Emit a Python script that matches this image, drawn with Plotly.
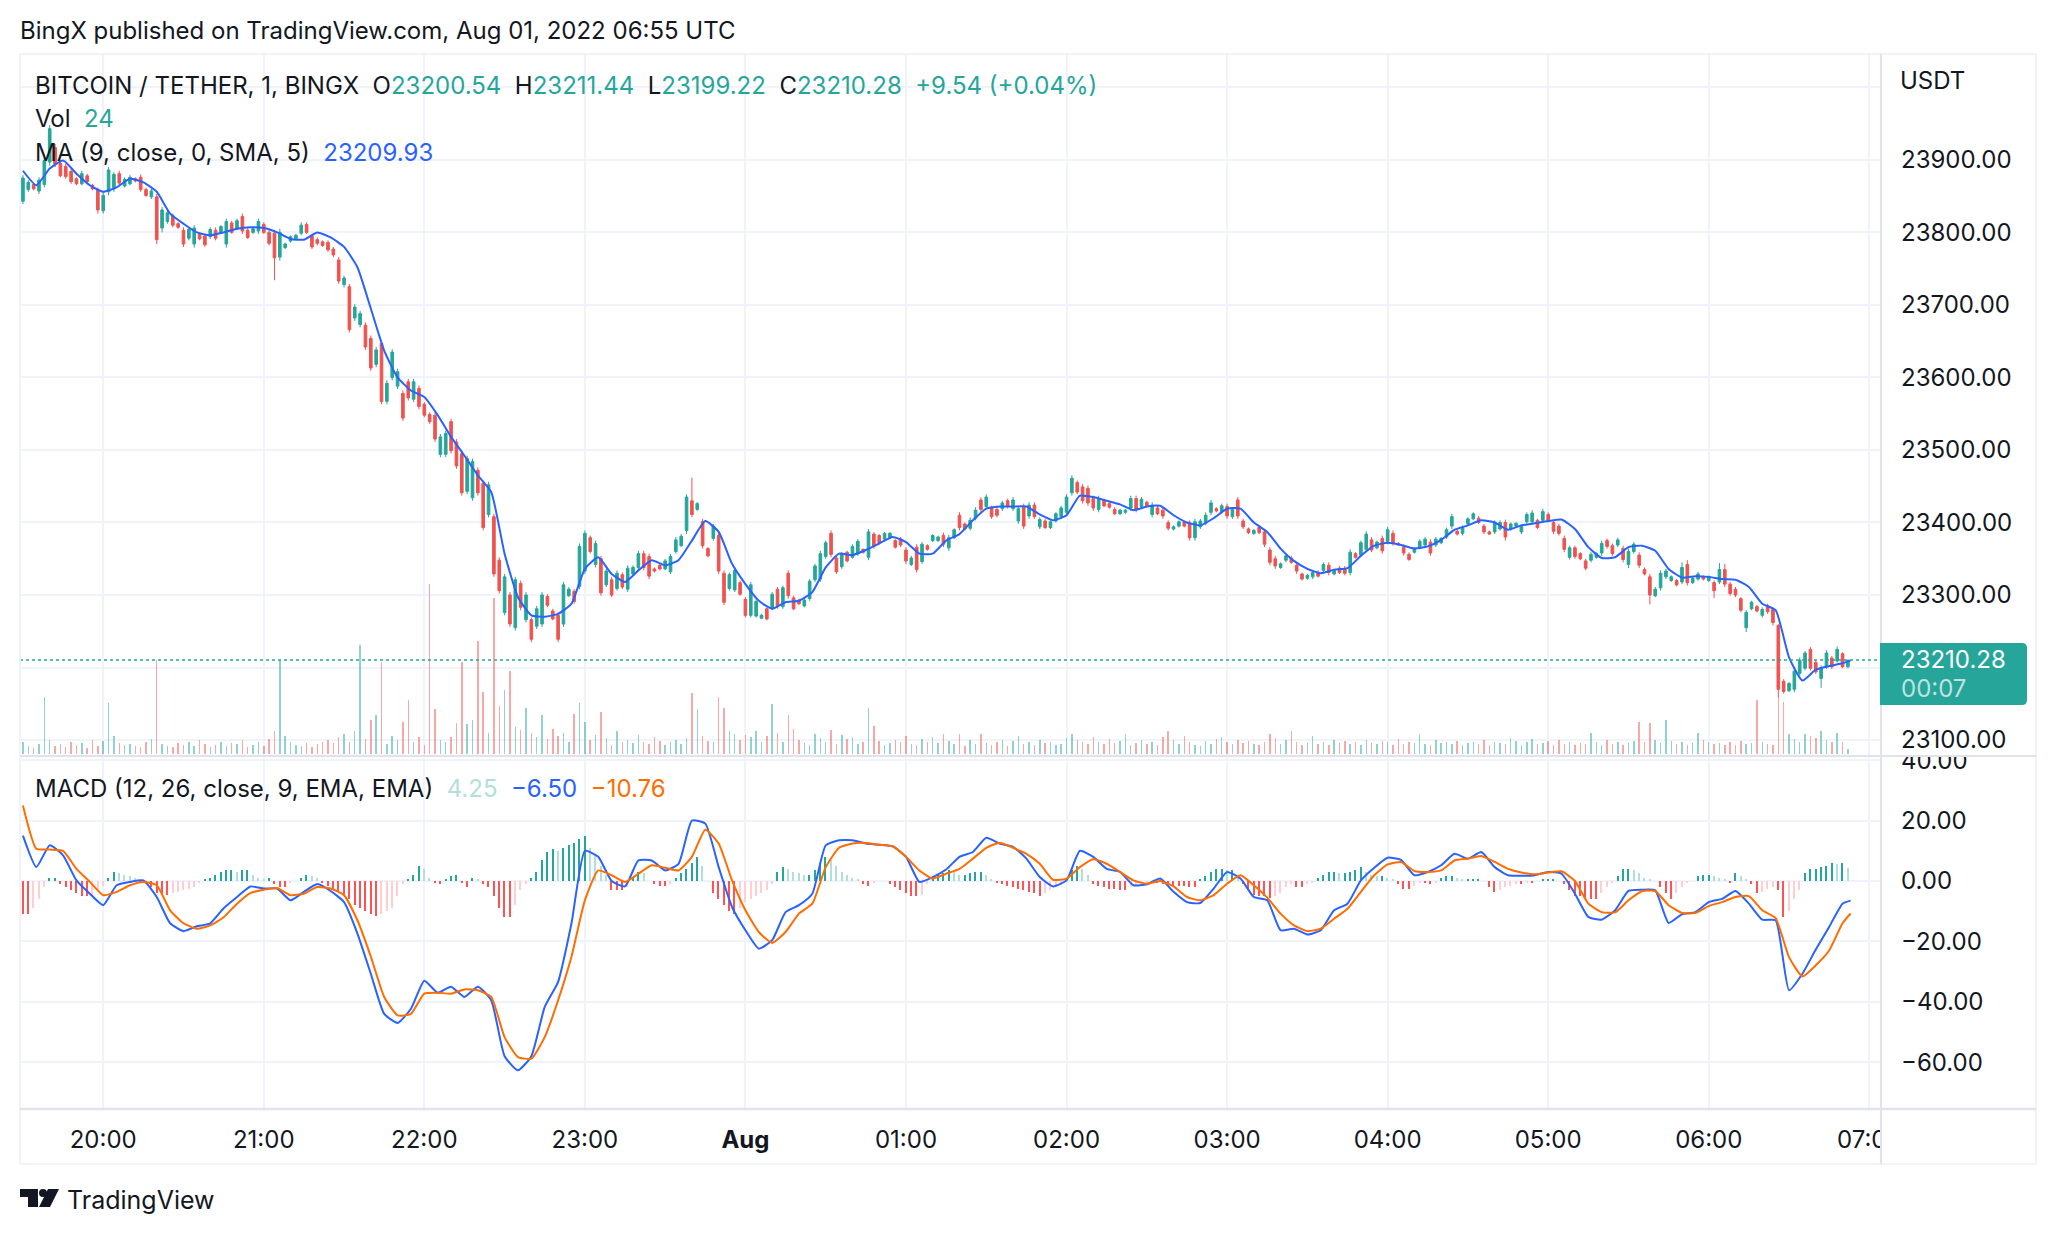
import plotly.graph_objects as go

W, H = 2056, 1234
BASE = 23000
UP, DOWN = "#26a69a", "#ef5350"
INK = "#131722"
GRID = "#f0f3fa"
EDGE = "#e0e3eb"
FONT = "Inter"

# 2-minute bars, as price minus 23000, starting 19:30
highs = [879,872,869,876,904,948,922,899,895,888,876,885,881,867,862,855,890,883,885,876,879,876,880,862,860,853,835,830,826,814,807,807,810,800,798,807,807,810,819,816,819,826,807,807,819,814,803,803,805,786,796,798,814,814,798,793,789,789,780,766,740,729,701,692,676,658,642,651,596,639,612,582,598,598,589,566,552,
552,522,527,543,515,499,492,488,476,458,456,412,352,329,304,325,320,304,269,285,304,301,281,276,318,311,308,371,389,382,375,354,336,325,334,331,341,341,361,361,357,338,343,350,357,380,384,439,462,428,405,366,398,386,334,331,338,320,297,318,294,274,283,304,311,313,334,299,295,295,322,343,361,375,389,354,359,361,370,377,364,391,387,384,387,387,377,380,366,354,370,373,370,384,382,386,383,392,
414,400,407,421,435,439,423,421,430,433,435,423,426,428,428,407,405,403,414,423,439,465,458,453,451,437,437,433,428,421,419,419,437,437,435,430,428,423,421,403,396,403,403,403,405,405,414,431,421,426,426,421,435,405,393,391,396,391,366,354,345,357,354,345,331,329,334,334,345,345,336,340,340,363,359,375,388,380,375,382,394,389,373,370,359,366,377,380,377,380,380,393,412,391,396,407,414,409,398,389,
403,403,404,400,400,398,414,417,405,419,414,403,398,382,368,368,359,350,359,359,375,378,371,379,368,364,373,359,338,329,311,334,336,327,322,345,348,325,332,327,327,320,344,343,318,311,297,279,292,286,283,288,283,260,184,180,200,214,223,228,210,203,224,216,229,221,211]
lows = [839,856,858,853,862,892,890,876,874,867,865,865,867,858,826,826,851,856,865,862,865,869,856,849,846,784,800,812,807,805,780,789,779,789,780,791,789,798,779,798,803,798,791,798,798,798,782,734,761,777,786,789,796,798,777,782,780,773,766,729,724,662,678,669,638,609,614,563,563,596,584,540,568,566,556,545,536,
511,490,490,495,474,437,439,430,437,389,407,325,302,272,256,251,279,262,235,253,256,283,265,235,256,297,288,308,329,357,338,299,311,297,306,308,304,327,334,334,322,331,334,334,329,357,366,384,407,416,364,352,375,329,286,306,304,299,269,269,269,267,265,279,281,281,295,279,286,283,292,318,318,350,352,329,336,345,350,354,357,348,364,370,375,377,364,366,343,340,331,343,361,373,373,366,361,377,
389,389,389,403,414,419,405,407,416,419,416,398,391,405,405,391,391,391,400,405,410,437,439,426,423,416,414,421,419,410,410,412,416,414,419,421,407,410,405,389,389,393,393,375,375,391,396,410,414,412,405,405,405,391,384,383,384,366,341,336,336,345,343,329,320,321,322,324,331,327,327,329,327,327,350,352,359,359,363,357,370,368,368,354,347,357,363,366,354,366,370,377,391,382,382,396,403,398,384,383,
384,389,375,389,394,384,398,398,391,400,400,384,382,359,349,350,348,334,345,350,354,364,354,366,345,337,357,337,327,287,297,306,322,318,312,315,313,315,320,320,318,296,315,311,299,297,276,249,279,276,269,274,258,159,164,166,166,189,196,196,191,172,198,198,207,199,199]
opens = [843,859,866,857,866,897,917,895,891,884,874,867,878,865,858,830,856,860,881,864,867,874,876,859,849,849,806,815,823,812,803,792,784,798,795,794,803,800,784,813,806,822,803,800,802,811,800,799,766,779,788,791,799,811,795,790,787,786,777,762,728,725,682,673,672,654,618,647,567,600,588,578,594,570,585,563,549,
548,494,494,539,511,495,443,434,472,454,411,408,348,276,300,255,316,266,266,257,260,298,278,272,260,299,305,312,333,379,342,350,314,321,309,328,308,329,338,357,353,336,341,336,332,360,368,389,430,418,401,364,378,382,330,309,307,317,294,272,271,268,281,282,308,284,330,296,293,285,295,321,322,353,385,351,339,359,352,357,363,352,384,382,377,379,375,377,362,342,366,346,368,375,375,382,365,379,
410,398,392,406,431,422,420,418,419,430,419,402,422,409,424,394,402,393,402,408,414,441,455,449,447,433,418,431,426,418,412,414,420,433,422,428,411,420,417,400,391,395,401,399,379,394,399,414,419,415,422,408,431,402,391,385,393,387,362,350,338,348,351,341,329,323,325,331,334,341,329,337,336,331,357,355,363,376,365,378,374,385,371,366,356,359,366,369,373,369,372,380,395,388,385,398,405,406,395,387,
387,391,400,391,395,387,401,401,403,403,411,400,395,378,352,365,357,347,348,352,358,375,368,369,364,342,360,355,335,325,299,310,325,320,320,318,342,317,322,325,320,317,318,335,315,308,295,255,281,284,272,285,280,258,181,168,170,192,199,225,207,185,201,213,209,219,201]
closes = [875,869,860,872,899,943,894,878,877,870,867,881,870,860,831,851,886,880,868,873,876,871,859,851,857,790,831,827,810,807,784,804,806,791,783,804,792,808,815,800,816,802,793,805,815,800,785,765,800,784,794,796,810,800,780,785,782,776,769,733,737,666,697,688,642,613,638,567,592,635,608,544,572,594,560,548,539,
515,518,523,499,478,441,488,484,441,393,452,329,306,325,260,321,283,300,239,281,300,286,267,239,314,308,291,367,385,360,371,303,333,300,330,311,337,338,357,338,326,333,336,347,353,376,381,435,411,426,368,354,395,333,290,328,334,301,272,314,291,272,267,301,285,310,299,281,288,293,319,340,357,372,356,332,356,347,367,374,359,387,367,372,385,385,366,369,347,351,335,370,363,382,380,370,379,390,
393,391,403,417,418,435,408,410,427,422,431,419,395,424,408,404,393,401,412,420,435,461,442,430,427,420,433,423,421,412,417,417,433,418,432,423,424,412,409,392,394,401,395,379,401,402,410,427,416,423,409,418,409,394,386,389,386,370,345,340,343,354,345,333,322,327,331,326,342,331,334,331,330,359,352,372,384,362,373,361,390,371,369,358,349,364,374,377,358,377,378,390,408,384,393,405,412,400,387,384,
399,400,380,398,399,395,411,413,393,415,403,388,385,363,365,353,350,337,356,357,371,367,357,376,349,360,370,341,329,300,308,330,333,325,314,338,317,323,329,322,325,306,335,315,302,300,279,276,290,278,280,277,262,170,167,178,195,210,220,199,194,200,220,201,225,201,210]
volumes = [60,40,30,50,290,70,40,50,35,60,45,55,30,70,40,65,260,90,55,45,
50,40,35,60,75,480,50,40,35,55,45,60,40,70,50,35,45,60,40,55,
50,70,35,45,60,40,75,120,480,90,60,45,40,55,35,50,60,70,55,85,
100,60,120,560,75,175,200,470,50,90,70,165,275,60,85,45,870,230,70,60,
85,160,470,155,175,580,315,110,800,245,330,425,140,125,235,110,85,200,75,130,
90,110,60,205,260,165,70,95,215,80,45,120,60,70,55,95,60,50,85,65,
45,60,70,50,80,310,230,90,65,60,290,235,120,105,70,95,85,120,60,90,
255,110,60,200,130,70,55,45,100,80,60,125,50,95,75,85,50,60,235,145,
65,45,55,70,60,90,50,45,75,60,85,55,100,65,50,100,40,70,50,100,
55,45,60,70,40,65,90,50,60,45,70,55,60,45,50,80,105,70,60,50,
85,60,50,75,55,65,100,45,55,70,50,60,45,85,120,70,50,90,60,45,
40,65,50,75,85,60,50,70,55,65,50,45,60,100,80,50,70,120,60,45,
55,90,50,60,45,70,55,65,50,60,45,70,55,50,65,60,45,75,50,60,
55,105,50,45,70,55,60,50,65,45,55,60,50,70,45,60,55,50,80,65,
45,60,75,50,55,65,45,70,50,60,45,55,50,110,60,45,70,50,60,45,
55,65,165,60,160,70,55,175,65,50,60,45,55,110,70,60,50,55,45,60,
45,65,50,55,275,60,50,45,300,265,100,75,60,100,90,80,120,70,60,110,
60,24]
hist = [-11,-11,-9,-6,-2,1,1,-1,-2,-3,-4,-5,-5,-4.5,-3,-1.5,1,3,2.5,2,1.5,1,-0.5,-1,-2,-4,-4.5,-4.5,-4,-3.5,-3,-2.5,-2,-0.5,0.5,1,
2,3,3.5,3.5,3,3.5,3.5,2,1,0.5,1,-1,-2,-2,-0.5,0,1,2,1.5,1,-0.5,-1.5,-2.5,-3.5,-4.5,-6,-8,-9,-10,-11,-11.5,-11,-10,-9,-5,
-1,0.5,2,5,4,1,-0.5,-1,0.5,1.5,2,-0.5,-2,1,0.5,-1,-2,-5,-9,-12,-12,-8,-3,-1,1,3,7,9.5,10.5,10,11,12,12.5,14,15,
11,9,5,2,-3,-3,-3,-2,1,3,2.5,0,-1,-1.5,-1.5,-1,1,2.5,4,6,8,5,0,-4,-6,-8,-10,-11,-9,-7,-6,-5,-4,-3,-1,3,4.5,4,
3,2.5,2,2,3.5,6,8,7,5,3,2,1,0.5,-1,-1.5,-0.5,0,0,-1,-2,-3,-4,-5,-5,-4.5,-1,1.5,2,2.5,3.5,3,2,2,
2.5,3,3,2,0.5,-0.5,-1,-1.5,-2,-2.5,-3,-3.5,-4,-5,-4,-3,-2,-0.5,1,3.5,5,4,2,-1,-1.5,-2,-2.5,-2.5,-3,-3,
-2,-1.5,-1,-0.5,-0.5,-0.5,-1,-1,-1.5,-1.5,-1.5,-2,-2,0.5,1.5,3,4,4,3.5,3.5,2,-1,-3,-4.5,-5,-5,-5.5,-5,-4,-2,-1,-2,-2,-1,-0.5,
1,2,3,3,2.5,2.5,3,3.5,4.5,3,2,1.5,1.5,1,0.5,-1,-2.5,-2.5,-1.5,-0.5,-0.5,-1,-0.5,1,1.5,1.5,1,0.5,0.5,0.5,0.5,0,-2,-3.5,-3,-2,-1.5,-1,-1,-0.5,-0.5,0,0.5,
0.5,0.5,0,-1,-3,-5,-5,-5.5,-6,-6,-4,-2,-0.5,1.5,4,4,3.5,2.5,1,0.5,0,-2,-4,-6,-4,-2,-0.5,0,1.5,2,2,1.5,1,0.5,-0.5,2.5,1.5,0.5,-1,
-4,-3.5,-2.5,-2,-3,-12,-10,-6,-3,2.5,4,4,4.5,5,6,5.5,6,4.25]

# Indicator lines read every 5 minutes from 19:30, last reading at the final bar
line_minutes = list(range(0, 685, 5)) + [683]
ma_line = [23885,23865,23888,23899,23881,23865,23856,23862,23874,23869,23856,23826,23812,23800,23796,23800,23805,23807,23806,23800,23791,23790,23800,23793,23780,23752,23695,23637,23600,23582,23573,23548,
23518,23492,23465,23442,23357,23297,23272,23270,23274,23288,23336,23352,23329,23318,23334,23348,23341,23348,23375,23402,23387,23343,23315,23292,23281,23290,23292,23304,23338,23357,23355,23362,23371,23380,23373,23357,23357,23375,
23384,23403,23419,23422,23422,23422,23411,23403,23410,23437,23435,23430,23425,23417,23422,23423,23410,23400,23396,23406,23419,23419,23400,23387,23364,23347,23336,23330,23335,23337,23354,23368,23372,23369,23364,23367,23376,23390,23396,23403,
23400,23390,23396,23399,23402,23404,23391,23366,23351,23352,23366,23368,23361,23336,23324,23326,23325,23322,23321,23311,23288,23279,23214,23182,23197,23202,23206,23209.93]
macd_line = [15,4.6,11.8,8.5,0.2,-4.2,-8,-1.4,-0.3,0.2,-5.3,-14,-16.6,-15,-14,-9,-5.3,-1.8,-2.5,-2.5,-6.4,-3.6,-1,-3.3,-7,-17.4,-30.7,-44,-47,-42.3,-33,-37,-35,-38.4,-35,-39.5,-58,-62.7,-58,-41.7,-33.4,-14,10,8,0,-1.8,6.8,6.8,3.5,5.7,20,19,4.6,-8.6,-16.3,-22.4,-19.6,-10.3,-8,
-4.2,11.8,13.5,13.5,12.4,12,11.5,8,-0.3,1.3,3.8,8,9.6,14.3,12.4,11.3,7.4,1.3,-1.8,0.2,10,8,4,3,-1.4,-1.1,0.8,-3.6,-7,-7.3,-2.5,3,0.8,-5.3,-6.4,-16.3,-15.8,-17.7,-16.3,-9.7,-7.5,0.2,4.4,7.7,7,1.9,3,5.2,9,7.4,9.6,4.6,1.9,1.7,1.9,3,
2.4,-4.2,-11.9,-12.8,-9.7,-3.3,-2.9,-3.1,-13.9,-11,-10.3,-7,-5.9,-3.3,-7.5,-12.8,-13,-36.2,-30.7,-22.7,-15.2,-7.5,-6.5]
signal_line = [25,10.7,10.4,10,4,-0.3,-4.7,-3.6,-1.4,-0.3,-1.4,-9.7,-14,-15.8,-14.7,-12,-7.5,-4,-2.9,-2.3,-4.7,-4.2,-2,-2.5,-4.7,-13,-25,-38.4,-44.5,-44,-37.3,-37,-37.3,-35.9,-36.2,-38.4,-51.7,-58.3,-58.8,-51.7,-39.5,-25,-6.4,3.5,1.9,-0.3,2.4,5.2,4.4,3.5,8,17,12.4,0.2,-9.7,-16.9,-20.5,-16.9,-10.8,
-7.5,4.6,11,12.4,12.6,12,11.5,8,3.5,0.8,2.4,4,7.4,11,12.7,11,9,5.7,0.4,0.8,4.6,7.2,5.7,3,0.2,-0.9,0,-1.8,-5.3,-6.4,-4.7,-0.9,1.9,-1.4,-5.5,-10.8,-14.7,-16.6,-15.8,-12.5,-9.2,-3.6,1.9,5.5,6.3,3.3,3,3.5,6.8,7.4,8.3,6.3,4,2.8,2.2,2.8,
3.2,0,-7.5,-10.3,-10.4,-6.4,-3.4,-3.3,-8,-10.6,-10.6,-8.3,-7,-5.3,-5,-9.7,-12.3,-25.2,-31.6,-27.9,-23,-14,-10.76]

price_ticks = [23100,23200,23300,23400,23500,23600,23700,23800,23900,24000]
price_labels = ["23100.00","","23300.00","23400.00","23500.00","23600.00","23700.00","23800.00","23900.00",""]
macd_ticks = [40,20,0,-20,-40,-60]
macd_labels = ["40.00","20.00","0.00","\u221220.00","\u221240.00","\u221260.00"]
time_ticks = [30,90,150,210,270,330,390,450,510,570,630,690]
time_labels = ["20:00","21:00","22:00","23:00","<b>Aug</b>","01:00","02:00","03:00","04:00","05:00","06:00","07:00"]
last_close = 23210.28

assert len(highs) == len(lows) == len(opens) == len(closes), (len(highs), len(lows), len(opens), len(closes))
assert len(line_minutes) == len(ma_line) == len(macd_line) == len(signal_line), (len(line_minutes), len(ma_line), len(macd_line), len(signal_line))
bars = len(highs)
volumes = volumes[:bars]; hist = hist[:bars]
minutes = [2 * i for i in range(bars)]
px = lambda x: x / W
py = lambda y: 1 - y / H

vol_colors = ["rgba(38,166,154,0.5)" if c >= o else "rgba(239,83,80,0.5)" for o, c in zip(opens, closes)]
hist_colors = []
for i, v in enumerate(hist):
    prev = hist[i - 1] if i else v
    if v >= 0:
        hist_colors.append("#26a69a" if v >= prev else "#b2dfdb")
    else:
        hist_colors.append("#ff5252" if v <= prev else "#ffcdd2")

smooth = dict(shape="spline", smoothing=0.5, width=2)

fig = go.Figure()
fig.add_trace(go.Bar(x=minutes[:len(volumes)], y=volumes, yaxis="y3", xaxis="x", width=0.55,
                     marker=dict(color=vol_colors, line_width=0), hoverinfo="skip"))
fig.add_trace(go.Candlestick(x=minutes, open=[BASE + v for v in opens], high=[BASE + v for v in highs],
                             low=[BASE + v for v in lows], close=[BASE + v for v in closes],
                             xaxis="x", yaxis="y", whiskerwidth=0,
                             increasing=dict(line=dict(color=UP, width=1), fillcolor=UP),
                             decreasing=dict(line=dict(color=DOWN, width=1), fillcolor=DOWN), hoverinfo="skip"))
fig.add_trace(go.Scatter(x=line_minutes, y=ma_line, xaxis="x", yaxis="y", mode="lines",
                         line=dict(color="#2962ff", **smooth), hoverinfo="skip"))
fig.add_trace(go.Bar(x=minutes[:len(hist)], y=hist, xaxis="x2", yaxis="y2", width=0.55,
                     marker=dict(color=hist_colors, line_width=0), hoverinfo="skip"))
fig.add_trace(go.Scatter(x=line_minutes, y=macd_line, xaxis="x2", yaxis="y2", mode="lines",
                         line=dict(color="#2962ff", **smooth), hoverinfo="skip"))
fig.add_trace(go.Scatter(x=line_minutes, y=signal_line, xaxis="x2", yaxis="y2", mode="lines",
                         line=dict(color="#ff6d00", **smooth), hoverinfo="skip"))

x_range = [-1.1, 694]
xdom = [px(20), px(1880)]
common_x = dict(range=x_range, domain=xdom, tickvals=time_ticks, showgrid=True, gridcolor=GRID, gridwidth=1.5,
                zeroline=False, showline=False, automargin=False, rangeslider=dict(visible=False))

def line(x0, y0, x1, y1, color, width):
    return dict(type="line", xref="paper", yref="paper", x0=px(x0), y0=py(y0), x1=px(x1), y1=py(y1),
                line=dict(color=color, width=width), layer="above")

def rect(x0, y0, x1, y1):
    return dict(type="rect", xref="paper", yref="paper", x0=px(x0), y0=py(y0), x1=px(x1), y1=py(y1),
                fillcolor="white", line_width=0, layer="above")

def path(points, fill):
    d = "M" + " L".join(f"{px(a):.5f},{py(b):.5f}" for a, b in points) + " Z"
    return dict(type="path", xref="paper", yref="paper", path=d, fillcolor=fill, line_width=0, layer="above")

shapes = [
    rect(1883, 749, 2034, 756),
    rect(1882, 1111, 2034, 1162),
    dict(type="line", xref="paper", yref="y", x0=px(20), x1=px(1880), y0=last_close, y1=last_close,
         line=dict(color=UP, width=1.5, dash="dot"), layer="above"),
    dict(type="line", xref="paper", yref="y2", x0=px(20), x1=px(1880), y0=0, y1=0,
         line=dict(color="#a8a8ac", width=1.5, dash="dash"), layer="below"),
    line(20, 54, 2036, 54, GRID, 2),
    line(20, 54, 20, 1164, GRID, 2),
    line(2036, 54, 2036, 1164, GRID, 2),
    line(20, 1164, 2036, 1164, GRID, 2),
    line(20, 756, 2036, 756, EDGE, 2),
    line(20, 1109, 2036, 1109, EDGE, 2.5),
    line(1881, 54, 1881, 1164, EDGE, 2),
    dict(type="path", xref="paper", yref="paper", layer="above", fillcolor=UP, line_width=0,
         path=f"M{px(1880)},{py(643)} L{px(2022)},{py(643)} Q{px(2027)},{py(643)} {px(2027)},{py(648)} "
              f"L{px(2027)},{py(700)} Q{px(2027)},{py(705)} {px(2022)},{py(705)} L{px(1880)},{py(705)} Z"),
    path([(20, 1189), (38, 1189), (38, 1207), (28, 1207), (28, 1197), (20, 1197)], INK),
    path([(48, 1189), (59, 1189), (50, 1207), (39, 1207)], INK),
]
# small round dot of the logo
shapes.append(dict(type="circle", xref="paper", yref="paper", x0=px(39), x1=px(47), y0=py(1197), y1=py(1189),
                   fillcolor=INK, line_width=0, layer="above"))

def note(x, y, text, size=24, color=INK):
    return dict(xref="paper", yref="paper", x=px(x), y=py(y), text=text, showarrow=False, xanchor="left",
                yanchor="middle", align="left", font=dict(family=FONT, size=size, color=color))

def tint(text, color):
    return f'<span style="color:{color}">{text}</span>'

sp = "&nbsp;"
annotations = [
    note(18, 31, "BingX published on TradingView.com, Aug 01, 2022 06:55 UTC"),
    note(33, 85, "BITCOIN / TETHER, 1, BINGX" + sp + sp + "O" + tint("23200.54", UP) + sp + sp + "H" + tint("23211.44", UP)
         + sp + sp + "L" + tint("23199.22", UP) + sp + sp + "C" + tint("23210.28", UP) + sp + sp + tint("+9.54 (+0.04%)", UP)),
    note(33, 119, "Vol" + sp + sp + tint("24", UP)),
    note(33, 153, "MA (9, close, 0, SMA, 5)" + sp + sp + tint("23209.93", "#2962ff")),
    note(33, 788, "MACD (12, 26, close, 9, EMA, EMA)" + sp + sp + tint("4.25", "#b2dfdb") + sp + sp
         + tint("\u22126.50", "#2962ff") + sp + sp + tint("\u221210.76", "#ff6d00")),
    note(1898, 81, "USDT", 24),
    note(1899, 660, "23210.28", 24, "white"),
    note(1899, 688, "00:07", 24, "rgba(255,255,255,0.7)"),
    note(65, 1200, "TradingView", 25),
]

fig.update_layout(
    width=W, height=H, margin=dict(l=0, r=0, t=0, b=0, autoexpand=False), paper_bgcolor="white", plot_bgcolor="white",
    showlegend=False, barmode="overlay", boxgap=0.3, bargap=0, hovermode=False, dragmode=False,
    font=dict(family=FONT, color=INK),
    xaxis=dict(common_x, anchor="y", showticklabels=False, ticks=""),
    xaxis2=dict(common_x, anchor="y2", ticktext=time_labels, showticklabels=True, ticks="", side="bottom",
                tickfont=dict(family=FONT, size=24, color=INK), ticklabelstandoff=14, tickangle=0),
    yaxis=dict(domain=[py(756), py(54)], range=[23078, 24046], side="right", anchor="x", tickvals=price_ticks,
               ticktext=price_labels, showgrid=True, gridcolor=GRID, gridwidth=1.5, zeroline=False, ticks="",
               automargin=False, tickfont=dict(family=FONT, size=24, color=INK), ticklabelstandoff=20),
    yaxis2=dict(domain=[py(1109), py(757)], range=[-75.5, 41.06], side="right", anchor="x2", tickvals=macd_ticks,
                ticktext=macd_labels, showgrid=True, gridcolor=GRID, gridwidth=1.5, zeroline=False, ticks="",
                automargin=False, tickfont=dict(family=FONT, size=24, color=INK), ticklabelstandoff=20),
    yaxis3=dict(domain=[py(756), py(54)], range=[-10, 3580], overlaying="y", anchor="x", side="right", automargin=False,
                showticklabels=False, showgrid=False, zeroline=False, ticks=""),
    shapes=shapes, annotations=annotations,
)

fig.write_html("out.html", config=dict(displayModeBar=False),
               post_script="document.body.style.margin='0';document.body.style.overflow='hidden';")
